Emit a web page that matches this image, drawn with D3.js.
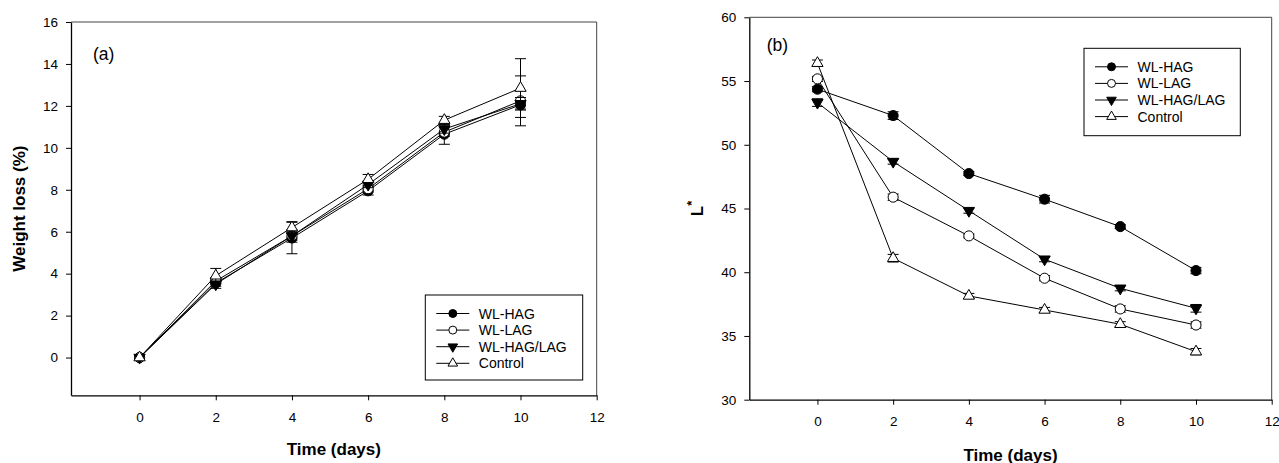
<!DOCTYPE html>
<html>
<head>
<meta charset="utf-8">
<style>
  body { margin: 0; background: #fff; }
  svg text { font-family: "Liberation Sans", Arial, sans-serif; fill: #000; }
  .axis text { font-size: 13.5px; }
  .title { font-size: 17px; font-weight: bold; }
</style>
<script src="https://d3js.org/d3.v7.min.js"></script>
</head>
<body>
<svg id="svg" width="1279" height="463"></svg>
<script>
  // shared
  let days = [0, 2, 4, 6, 8, 10];
  let seriesNames = ["WL-HAG", "WL-LAG", "WL-HAG/LAG", "Control"];
  let xTicks = [0, 2, 4, 6, 8, 10, 12];

  // panel (a) weight loss (%)
  let wlHAG = [0, 3.55, 5.7, 7.95, 10.65, 12.05];
  let wlHAGErr = [0, 0.25, 0.75, 0.2, 0.48, 0.2];
  let wlLAG = [0, 3.65, 5.8, 8.05, 10.75, 12.24];
  let wlLAGErr = [0, 0.15, 0.3, 0.15, 0.2, 1.19];
  let wlMix = [0, 3.5, 5.8, 8.25, 10.9, 12.1];
  let wlMixErr = [0, 0.1, 0.2, 0.15, 0.2, 0.3];
  let wlControl = [0, 3.9, 6.2, 8.5, 11.32, 12.85];
  let wlControlErr = [0, 0.35, 0.28, 0.23, 0.18, 1.4];
  let yTicksA = [0, 2, 4, 6, 8, 10, 12, 14, 16];

  // panel (b) L*
  let lHAG = [54.36, 52.29, 47.74, 45.73, 43.58, 40.13];
  let lHAGErr = [0.2, 0.3, 0.15, 0.3, 0.15, 0.25];
  let lLAG = [55.17, 45.89, 42.85, 39.53, 37.12, 35.86];
  let lLAGErr = [0.2, 0.25, 0.15, 0.2, 0.25, 0.25];
  let lMix = [53.31, 48.68, 44.83, 41.02, 38.74, 37.17];
  let lMixErr = [0.3, 0.2, 0.2, 0.2, 0.2, 0.3];
  let lControl = [56.4, 41.1, 38.14, 37.04, 35.92, 33.77];
  let lControlErr = [0.25, 0.3, 0.2, 0.2, 0.2, 0.25];
  let yTicksB = [30, 35, 40, 45, 50, 55, 60];

  // marker style per series: symbol, filled?, rotate
  let markers = [
    { type: d3.symbolCircle, fill: "#000", rot: 0, size: 80, lsize: 50 },
    { type: d3.symbolCircle, fill: "#fff", rot: 0, size: 80, lsize: 50 },
    { type: d3.symbolTriangle, fill: "#000", rot: 180, size: 55, lsize: 40 },
    { type: d3.symbolTriangle, fill: "#fff", rot: 0, size: 55, lsize: 40 }
  ];

  let svg = d3.select("#svg");

  function drawPanel(p) {
    let x = d3.scaleLinear().domain([-1.8, 12]).range([p.left, p.right]);
    let y = d3.scaleLinear().domain(p.yDomain).range([p.bottom, p.top]);
    let g = svg.append("g");

    // frame top / right
    g.append("line").attr("x1", p.left).attr("x2", p.right).attr("y1", p.top).attr("y2", p.top)
      .attr("stroke", "#444").attr("stroke-width", 1);
    g.append("line").attr("x1", p.right).attr("x2", p.right).attr("y1", p.top).attr("y2", p.bottom)
      .attr("stroke", "#444").attr("stroke-width", 1);

    let xa = g.append("g").attr("class", "axis").attr("transform", "translate(0," + p.bottom + ")")
      .call(d3.axisBottom(x).tickValues(xTicks).tickSize(5).tickSizeOuter(0).tickPadding(12).tickFormat(d3.format("d")));
    let ya = g.append("g").attr("class", "axis").attr("transform", "translate(" + p.left + ",0)")
      .call(d3.axisLeft(y).tickValues(p.yTicks).tickSize(5).tickSizeOuter(0).tickPadding(8).tickFormat(d3.format("d")));
    [xa, ya].forEach(a => {
      a.select(".domain").attr("stroke", "#000").attr("stroke-width", 1.3);
      a.selectAll(".tick line").attr("stroke", "#000");
      a.selectAll(".tick text").attr("fill", "#222");
    });
    // x axis line extends full width (domain path already does)

    // series
    p.series.forEach((s, si) => {
      let pts = days.map((d, i) => ({ t: d, v: s.vals[i], e: s.err[i] }));
      g.append("path").datum(pts)
        .attr("fill", "none").attr("stroke", "#000").attr("stroke-width", 1)
        .attr("d", d3.line().x(d => x(d.t)).y(d => y(d.v)));
      let eb = g.append("g");
      pts.filter(d => d.e > 0).forEach(d => {
        let cx = x(d.t);
        eb.append("line").attr("x1", cx).attr("x2", cx).attr("y1", y(d.v - d.e)).attr("y2", y(d.v + d.e))
          .attr("stroke", "#000").attr("stroke-width", 1);
        [d.v - d.e, d.v + d.e].forEach(v => {
          eb.append("line").attr("x1", cx - 5.5).attr("x2", cx + 5.5).attr("y1", y(v)).attr("y2", y(v))
            .attr("stroke", "#000").attr("stroke-width", 1);
        });
      });
      let m = markers[si];
      g.selectAll(null).data(pts).enter().append("path")
        .attr("d", d3.symbol().type(m.type).size(m.size))
        .attr("transform", d => "translate(" + x(d.t) + "," + y(d.v) + ") rotate(" + m.rot + ")")
        .attr("fill", m.fill).attr("stroke", "#000").attr("stroke-width", 1);
    });

    // panel letter
    g.append("text").attr("x", p.tagX).attr("y", p.tagY).attr("font-size", "17.5px").text(p.tag);

    // axis titles
    g.append("text").attr("class", "title").attr("text-anchor", "middle")
      .attr("x", (p.left + p.right) / 2).attr("y", p.xTitleY).text("Time (days)");
    let yt = g.append("text").attr("class", "title").attr("text-anchor", "middle")
      .attr("transform", "translate(" + p.yTitleX + "," + (p.top + p.bottom) / 2 + ") rotate(-90)");
    if (p.yTitle === "L*") {
      yt.append("tspan").text("L");
      yt.append("tspan").attr("baseline-shift", "super").attr("font-size", "13px").text("*");
    } else {
      yt.text(p.yTitle);
    }

    // legend
    let lg = g.append("g");
    lg.append("rect").attr("x", p.leg.x).attr("y", p.leg.y).attr("width", p.leg.w).attr("height", p.leg.h)
      .attr("fill", "#fff").attr("stroke", "#000").attr("stroke-width", 1);
    seriesNames.forEach((name, i) => {
      let cy = p.leg.y + 18.5 + i * 16.6;
      let lx = p.leg.x + 11;
      lg.append("line").attr("x1", lx).attr("x2", lx + 33).attr("y1", cy).attr("y2", cy)
        .attr("stroke", "#000").attr("stroke-width", 1);
      let m = markers[i];
      lg.append("path").attr("d", d3.symbol().type(m.type).size(m.lsize))
        .attr("transform", "translate(" + (lx + 16.5) + "," + cy + ") rotate(" + m.rot + ")")
        .attr("fill", m.fill).attr("stroke", "#000").attr("stroke-width", 1);
      lg.append("text").attr("x", lx + 42.5).attr("y", cy + 5).attr("font-size", "14px").text(name);
    });
  }

  drawPanel({
    left: 71, right: 596.7, top: 22, bottom: 395.3,
    yDomain: [-1.8, 16], yTicks: yTicksA,
    series: [
      { vals: wlHAG, err: wlHAGErr },
      { vals: wlLAG, err: wlLAGErr },
      { vals: wlMix, err: wlMixErr },
      { vals: wlControl, err: wlControlErr }
    ],
    tag: "(a)", tagX: 93, tagY: 59.6,
    xTitleY: 455, yTitle: "Weight loss (%)", yTitleX: 24.5,
    leg: { x: 425.3, y: 295, w: 157.4, h: 85 }
  });

  drawPanel({
    left: 749.3, right: 1271.7, top: 17.3, bottom: 399.7,
    yDomain: [30, 60], yTicks: yTicksB,
    series: [
      { vals: lHAG, err: lHAGErr },
      { vals: lLAG, err: lLAGErr },
      { vals: lMix, err: lMixErr },
      { vals: lControl, err: lControlErr }
    ],
    tag: "(b)", tagX: 766.7, tagY: 51.3,
    xTitleY: 460.5, yTitle: "L*", yTitleX: 703,
    leg: { x: 1084, y: 48.3, w: 156.3, h: 87.4 }
  });
</script>
</body>
</html>
